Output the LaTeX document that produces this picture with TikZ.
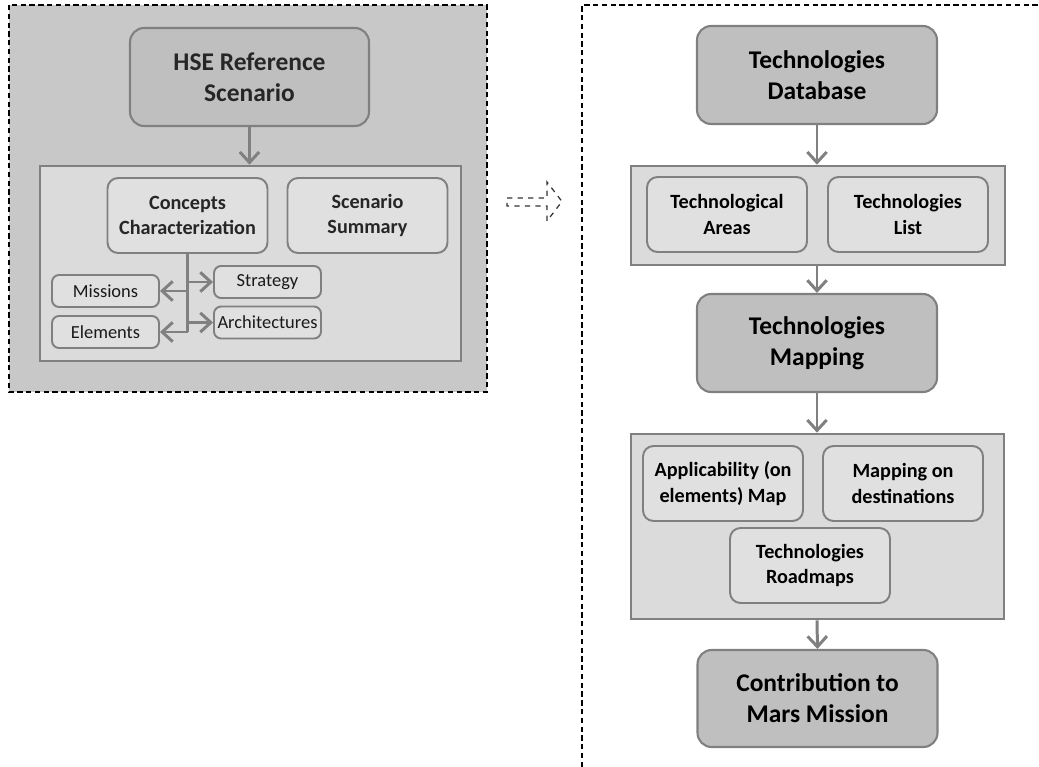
\documentclass[tikz,border=0pt]{standalone}
\usepackage{fontspec}
\setmainfont{Carlito}
\usepackage{tikz}
\usetikzlibrary{arrows.meta,positioning,calc}
\usepackage{xcolor}
\definecolor{panelgray}{RGB}{200,200,200}
\definecolor{darkbox}{RGB}{191,191,191}
\definecolor{lightbox}{RGB}{219,219,219}
\definecolor{innerbox}{RGB}{224,224,224}
\definecolor{edgegray}{RGB}{128,128,128}

\begin{document}
\begin{tikzpicture}[x=0.02cm, y=-0.02cm,
    >={Straight Barb[length=6pt,width=11pt]},
    flow/.style={->, draw=edgegray, line width=1.7pt},
    panel/.style={line width=0.8pt, dash pattern=on 3pt off 2pt},
    titlebox/.style={draw=edgegray, line width=1.2pt, fill=darkbox, rounded corners=8pt, minimum width=4.8cm, minimum height=1.96cm, align=center, font=\fontsize{14.5}{17.5}\selectfont\bfseries},
    groupbox/.style={draw=edgegray, line width=1.5pt, fill=lightbox, inner sep=0pt},
    subbox/.style={draw=edgegray, line width=1.1pt, fill=innerbox, rounded corners=6pt, minimum width=3.2cm, minimum height=1.5cm, align=center, font=\fontsize{11.5}{14.5}\selectfont\bfseries},
    itembox/.style={draw=edgegray, line width=1.1pt, fill=innerbox, rounded corners=4pt, minimum width=2.14cm, minimum height=0.64cm, inner xsep=2pt, font=\fontsize{10.5}{12}\selectfont, text=black!90}]
    \useasboundingbox (0,0) rectangle (1039,767);

    % Left panel
    \draw[panel, fill=panelgray] (9,5) rectangle (487,392);
    \node[titlebox, minimum width=4.78cm, text=black!85] (hse) at (249.5,77) {HSE Reference\\Scenario};
    \node[groupbox, minimum width=8.42cm, minimum height=3.9cm] (scenbox) at (250.5,263.5) {};
    \node[subbox, text=black!85] (concepts) at (187.5,215.5) {Concepts\\Characterization};
    \node[subbox, text=black!85] (summary) at (367.5,215.5) {Scenario\\Summary};
    \node[itembox] (missions) at (105.5,291) {Missions};
    \node[itembox] (elements) at (105.5,332) {Elements};
    \node[itembox] (strategy) at (267.5,282) {Strategy};
    \node[itembox] (archit) at (267.5,322.5) {Architectures};

    \draw[flow] (hse.south) -- (hse.south |- scenbox.north);
    \draw[draw=edgegray, line width=1.7pt] (concepts.south) -- (concepts.south |- elements.east);
    \draw[flow] (concepts.south |- missions.east) -- (missions.east);
    \draw[flow] (concepts.south |- elements.east) -- (elements.east);
    \draw[flow] (concepts.south |- strategy.west) -- (strategy.west);
    \draw[flow] (concepts.south |- archit.west) -- (archit.west);

    % Hollow arrow between panels
    \draw[dashed, line width=0.7pt, black!80] (507,198) -- (547,198) -- (547,182) -- (562,201.5) -- (547,221) -- (547,206) -- (507,206) -- cycle;

    % Right panel
    \draw[panel] (582,767) -- (582,5) -- (1039,5);
    \node[titlebox] (techdb) at (817,75) {Technologies\\Database};
    \node[groupbox, minimum width=7.48cm, minimum height=1.98cm] (techgroup) at (818,215.5) {};
    \node[subbox] (areas) at (727,214.5) {Technological\\Areas};
    \node[subbox] (techlist) at (908,214.5) {Technologies\\List};

    \node[titlebox] (mapping) at (817,343) {Technologies\\Mapping};
    \node[groupbox, minimum width=7.46cm, minimum height=3.7cm] (mapgroup) at (817.5,526.5) {};
    \node[subbox] (applic) at (723,483.5) {Applicability (on\\elements) Map};
    \node[subbox] (destin) at (903,483.5) {Mapping on\\destinations};
    \node[subbox] (roadmaps) at (810,565.5) {Technologies\\Roadmaps};

    \node[titlebox, minimum height=1.94cm] (contrib) at (817.5,698.5) {Contribution to\\Mars Mission};

    \draw[flow] (techdb.south) -- (techdb.south |- techgroup.north);
    \draw[flow] (techdb.south |- techgroup.south) -- (mapping.north);
    \draw[flow] (mapping.south) -- (mapping.south |- mapgroup.north);
    \draw[flow] (mapping.south |- mapgroup.south) -- (contrib.north);
\end{tikzpicture}
\end{document}
